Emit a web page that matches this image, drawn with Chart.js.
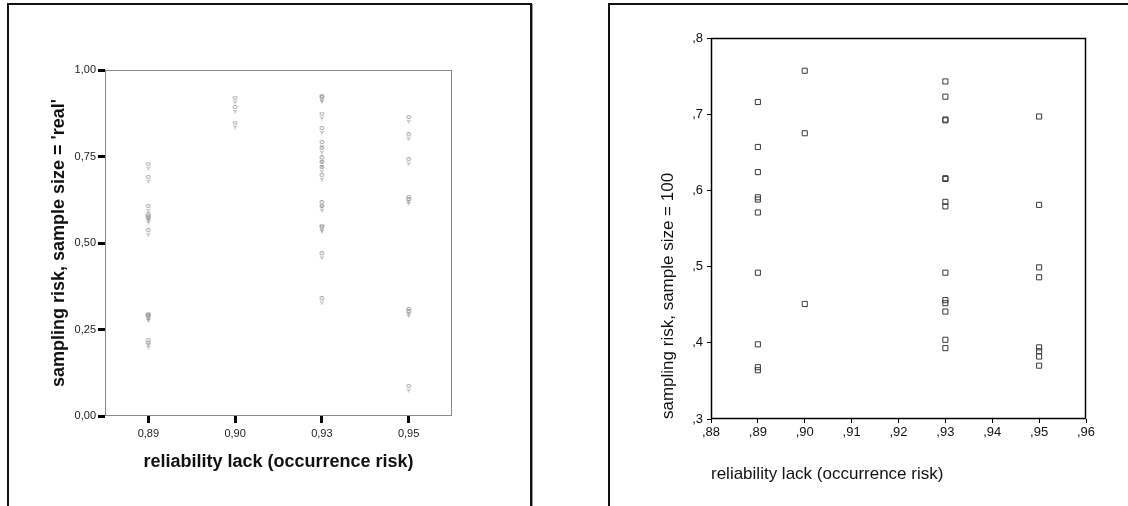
<!DOCTYPE html>
<html>
<head>
<meta charset="utf-8">
<script src="https://cdn.jsdelivr.net/npm/chart.js@4.4.1/dist/chart.umd.min.js"></script>
<style>
  html, body { margin: 0; padding: 0; background: #fff; width: 1128px; height: 506px; overflow: hidden; }
  .frame { position: absolute; border: 2px solid #111; box-shadow: 1px 1px 0 #999; }
  canvas { position: absolute; }
</style>
</head>
<body>
<div class="frame" style="left:7px; top:3px; width:521px; height:600px;"></div>
<div class="frame" style="left:608px; top:3px; width:600px; height:600px;"></div>
<canvas id="left" width="560" height="506" style="left:0; top:0;"></canvas>
<canvas id="right" width="568" height="506" style="left:560px; top:0;"></canvas>
<script>
// ---------- Left chart data (sample size = 'real') ----------
const leftCategories = ['0,89', '0,90', '0,93', '0,95'];
const leftY089 = [0.722, 0.684, 0.600, 0.576, 0.572, 0.566, 0.530, 0.289, 0.285, 0.283, 0.213, 0.205];
const leftY090 = [0.913, 0.886, 0.841];
const leftY093 = [0.918, 0.915, 0.867, 0.825, 0.785, 0.768, 0.740, 0.727, 0.712, 0.690, 0.610, 0.600, 0.543, 0.540, 0.463, 0.333];
const leftY095 = [0.857, 0.807, 0.735, 0.626, 0.620, 0.302, 0.295, 0.080];
const leftYTicks = [0, 0.25, 0.5, 0.75, 1.0];

// ---------- Right chart data (sample size = 100) ----------
const rightY089 = [0.716, 0.657, 0.624, 0.591, 0.588, 0.571, 0.492, 0.398, 0.368, 0.364];
const rightY090 = [0.757, 0.675, 0.451];
const rightY093 = [0.743, 0.723, 0.693, 0.692, 0.616, 0.615, 0.585, 0.579, 0.492, 0.456, 0.452, 0.441, 0.404, 0.393];
const rightY095 = [0.697, 0.581, 0.499, 0.486, 0.394, 0.389, 0.382, 0.370];
const rightXValues = [0.89, 0.90, 0.93, 0.95];
const rightXTicks = [0.88, 0.89, 0.90, 0.91, 0.92, 0.93, 0.94, 0.95, 0.96];
const rightYTicks = [0.3, 0.4, 0.5, 0.6, 0.7, 0.8];

const FONT = "'Liberation Sans', Arial, Helvetica, sans-serif";

// small glyph-like marker for the left chart
function makeGlyph() {
  const c = document.createElement('canvas');
  c.width = 6; c.height = 9;
  const g = c.getContext('2d');
  g.strokeStyle = 'rgba(110,110,110,0.6)';
  g.lineWidth = 1;
  g.beginPath();
  g.ellipse(3, 2, 2, 1.6, 0, 0, Math.PI * 2);
  g.stroke();
  g.beginPath();
  g.moveTo(1, 5); g.lineTo(3, 6.5); g.lineTo(5, 5);
  g.moveTo(3, 6.5); g.lineTo(3, 8.5);
  g.stroke();
  return c;
}
const glyph = makeGlyph();

const boxPlugin = {
  id: 'plotBox',
  beforeDatasetsDraw(chart, args, opts) {
    const { ctx, chartArea: a } = chart;
    ctx.save();
    ctx.strokeStyle = opts.color;
    ctx.lineWidth = opts.width;
    ctx.strokeRect(a.left + 0.5, a.top + 0.5, a.right - a.left - 1, a.bottom - a.top - 1);
    ctx.restore();
  }
};

// ---------- Left chart ----------
const leftPoints = [];
[leftY089, leftY090, leftY093, leftY095].forEach((arr, i) => {
  arr.forEach(v => leftPoints.push({ x: leftCategories[i], y: v }));
});

new Chart(document.getElementById('left'), {
  type: 'scatter',
  data: {
    datasets: [{
      data: leftPoints,
      pointStyle: glyph,
      pointRadius: 4,
      showLine: false
    }]
  },
  options: {
    responsive: false,
    animation: false,
    devicePixelRatio: 1,
    layout: { padding: { top: 70, right: 108, left: 0, bottom: 0 } },
    plugins: { legend: { display: false }, tooltip: { enabled: false }, plotBox: { color: '#8a8a8a', width: 1 } },
    scales: {
      x: {
        type: 'category',
        labels: leftCategories,
        offset: true,
        border: { display: false },
        grid: { display: true, drawOnChartArea: false, drawTicks: true, tickLength: 7, tickWidth: 3, tickColor: '#000', color: 'rgba(0,0,0,0)' },
        ticks: { color: '#222', font: { family: FONT, size: 11 }, padding: 4, maxRotation: 0 },
        title: { display: true, text: 'reliability lack (occurrence risk)', color: '#111', font: { family: FONT, size: 18, weight: 'bold' }, padding: { top: 0, bottom: 33 } },
        afterFit(scale) { scale.height = 90; }
      },
      y: {
        type: 'linear',
        min: 0, max: 1,
        border: { display: false },
        afterBuildTicks(scale) { scale.ticks = leftYTicks.map(v => ({ value: v })); },
        grid: { display: true, drawOnChartArea: false, drawTicks: true, tickLength: 7, tickWidth: 3, tickColor: '#000', color: 'rgba(0,0,0,0)' },
        ticks: { color: '#222', font: { family: FONT, size: 11 }, padding: 2, callback: v => v.toFixed(2).replace('.', ',') },
        title: { display: true, text: "sampling risk, sample size = 'real'", color: '#111', font: { family: FONT, size: 18, weight: 'bold' }, padding: { top: 48, bottom: 0 } },
        afterFit(scale) { scale.width = 105; }
      }
    }
  },
  plugins: [boxPlugin]
});

// ---------- Right chart ----------
const rightPoints = [];
[rightY089, rightY090, rightY093, rightY095].forEach((arr, i) => {
  arr.forEach(v => rightPoints.push({ x: rightXValues[i], y: v }));
});

new Chart(document.getElementById('right'), {
  type: 'scatter',
  data: {
    datasets: [{
      data: rightPoints,
      pointStyle: 'rect',
      pointRadius: 3.6,
      borderColor: '#3a3a3a',
      borderWidth: 1,
      backgroundColor: 'rgba(0,0,0,0)',
      showLine: false
    }]
  },
  options: {
    responsive: false,
    animation: false,
    devicePixelRatio: 1,
    layout: { padding: { top: 38, right: 42, left: 0, bottom: 0 } },
    plugins: { legend: { display: false }, tooltip: { enabled: false }, plotBox: { color: '#000', width: 1.5 } },
    scales: {
      x: {
        type: 'linear',
        min: 0.88, max: 0.96,
        border: { display: false },
        afterBuildTicks(scale) { scale.ticks = rightXTicks.map(v => ({ value: v })); },
        grid: { display: true, drawOnChartArea: false, drawTicks: true, tickLength: 4, tickWidth: 1, tickColor: '#000', color: 'rgba(0,0,0,0)' },
        ticks: { color: '#111', font: { family: FONT, size: 13 }, padding: 2, maxRotation: 0, autoSkip: false, callback: v => ',' + Math.round(v * 100) },
        title: { display: true, align: 'start', text: 'reliability lack (occurrence risk)', color: '#111', font: { family: FONT, size: 17 }, padding: { top: 0, bottom: 21 } },
        afterFit(scale) { scale.height = 87; }
      },
      y: {
        type: 'linear',
        min: 0.3, max: 0.8,
        border: { display: false },
        afterBuildTicks(scale) { scale.ticks = rightYTicks.map(v => ({ value: v })); },
        grid: { display: true, drawOnChartArea: false, drawTicks: true, tickLength: 4, tickWidth: 1, tickColor: '#000', color: 'rgba(0,0,0,0)' },
        ticks: { color: '#111', font: { family: FONT, size: 13 }, padding: 4, autoSkip: false, callback: v => ',' + Math.round(v * 10) },
        title: { display: true, align: 'start', text: 'sampling risk, sample size = 100', color: '#111', font: { family: FONT, size: 17 }, padding: { top: 98, bottom: 0 } },
        afterFit(scale) { scale.width = 151; }
      }
    }
  },
  plugins: [boxPlugin]
});
</script>
</body>
</html>
